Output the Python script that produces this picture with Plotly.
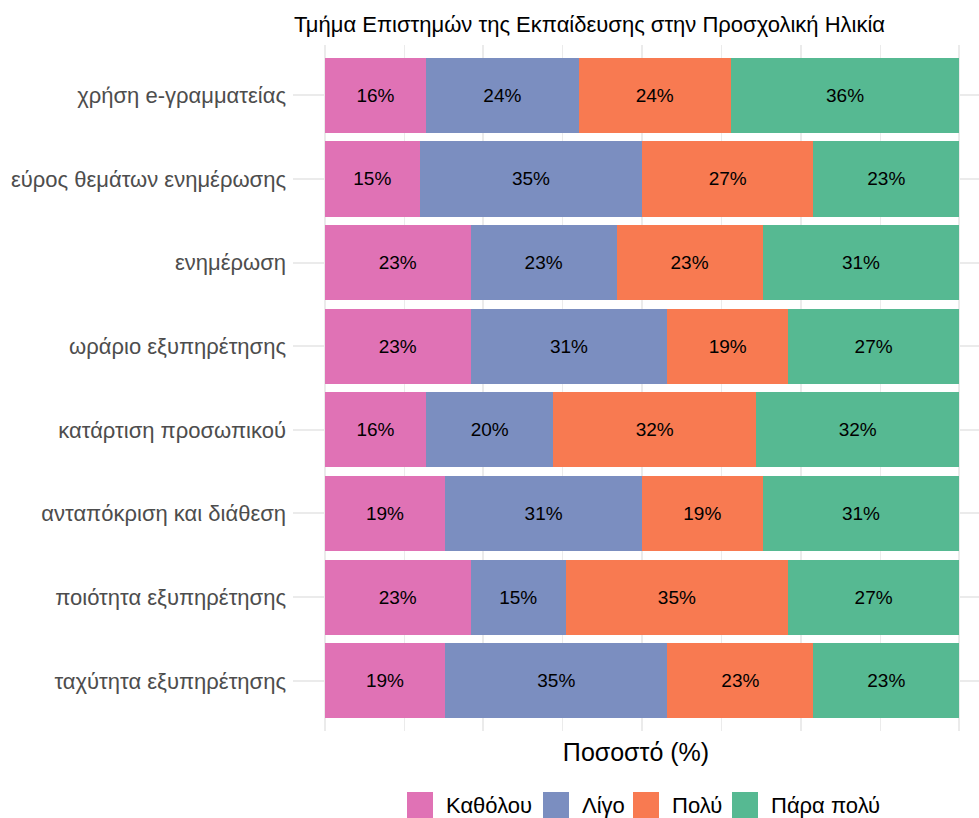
import plotly.graph_objects as go

# Survey items (top to bottom)
items = [
    "χρήση e-γραμματείας",
    "εύρος θεμάτων ενημέρωσης",
    "ενημέρωση",
    "ωράριο εξυπηρέτησης",
    "κατάρτιση προσωπικού",
    "ανταπόκριση και διάθεση",
    "ποιότητα εξυπηρέτησης",
    "ταχύτητα εξυπηρέτησης",
]

# Response levels and their percentages per item
levels = ["Καθόλου", "Λίγο", "Πολύ", "Πάρα πολύ"]
pct_katholou = [16, 15, 23, 23, 16, 19, 23, 19]
pct_ligo = [24, 35, 23, 31, 20, 31, 15, 35]
pct_poly = [24, 27, 23, 19, 32, 19, 35, 23]
pct_para_poly = [36, 23, 31, 27, 32, 31, 27, 23]

colors = ["#E072B5", "#7B8EC0", "#F87A51", "#56B992"]
series = [pct_katholou, pct_ligo, pct_poly, pct_para_poly]

FONT = "Liberation Sans, Arial, sans-serif"

W, H = 979, 818
M_L, M_R, M_T, M_B = 293, 0, 45, 87
PW = W - M_L - M_R
PH = H - M_T - M_B


def px_to_paper_x(px):
    return (px - M_L) / PW


def px_to_paper_y(py):
    return (H - M_B - py) / PH


fig = go.Figure()
for name, vals, col in zip(levels, series, colors):
    fig.add_trace(go.Bar(
        y=items,
        x=vals,
        name=name,
        orientation="h",
        marker=dict(color=col, line=dict(width=0)),
        width=0.9,
        text=[f"{v}%" for v in vals],
        textposition="inside",
        insidetextanchor="middle",
        constraintext="none",
        textfont=dict(color="black", size=19, family=FONT),
        showlegend=False,
        hoverinfo="skip",
    ))

# Legend drawn below the panel: square key + label per level
key_left_px = [407, 543, 633, 732]
KEY_W, KEY_H = 26, 26
KEY_TOP = 792
shapes = []
annotations = []
for name, col, kx in zip(levels, colors, key_left_px):
    shapes.append(dict(
        type="rect", xref="paper", yref="paper",
        x0=px_to_paper_x(kx), x1=px_to_paper_x(kx + KEY_W),
        y0=px_to_paper_y(KEY_TOP + KEY_H), y1=px_to_paper_y(KEY_TOP),
        fillcolor=col, line=dict(width=0), layer="above",
    ))
    annotations.append(dict(
        text=name, xref="paper", yref="paper",
        x=px_to_paper_x(kx + KEY_W + 11), xanchor="left",
        y=px_to_paper_y(KEY_TOP + KEY_H / 2 + 1), yanchor="middle",
        showarrow=False,
        font=dict(size=22, color="black", family=FONT),
    ))

fig.update_layout(
    barmode="stack",
    width=W,
    height=H,
    margin=dict(l=M_L, r=M_R, t=M_T, b=M_B),
    paper_bgcolor="white",
    plot_bgcolor="white",
    bargap=0.1,
    showlegend=False,
    font=dict(family=FONT),
    title=dict(
        text="Τμήμα Επιστημών της Εκπαίδευσης στην Προσχολική Ηλικία",
        x=px_to_paper_x(294), xref="paper", xanchor="left",
        y=1 - 24.5 / H, yref="container", yanchor="middle",
        font=dict(size=22, color="black", family=FONT),
    ),
    xaxis=dict(
        range=[-5, 103.1],
        tickmode="linear", tick0=0, dtick=25,
        showticklabels=False,
        ticks="",
        showgrid=True, gridcolor="#EBEBEB", gridwidth=2,
        minor=dict(tickmode="linear", tick0=12.5, dtick=25, showgrid=True,
                   gridcolor="#EBEBEB", gridwidth=1),
        zeroline=False,
        showline=False,
        title=dict(text="Ποσοστό (%)", font=dict(size=25, color="black", family=FONT),
                   standoff=12),
    ),
    yaxis=dict(
        categoryorder="array",
        categoryarray=items,
        autorange=False,
        range=[7.6, -0.6],
        showgrid=True, gridcolor="#EBEBEB", gridwidth=2,
        ticks="",
        ticklabelstandoff=6,
        tickfont=dict(size=22, color="#4D4D4D", family=FONT),
        zeroline=False,
    ),
    shapes=shapes,
    annotations=annotations,
)

fig.write_html("out.html")
